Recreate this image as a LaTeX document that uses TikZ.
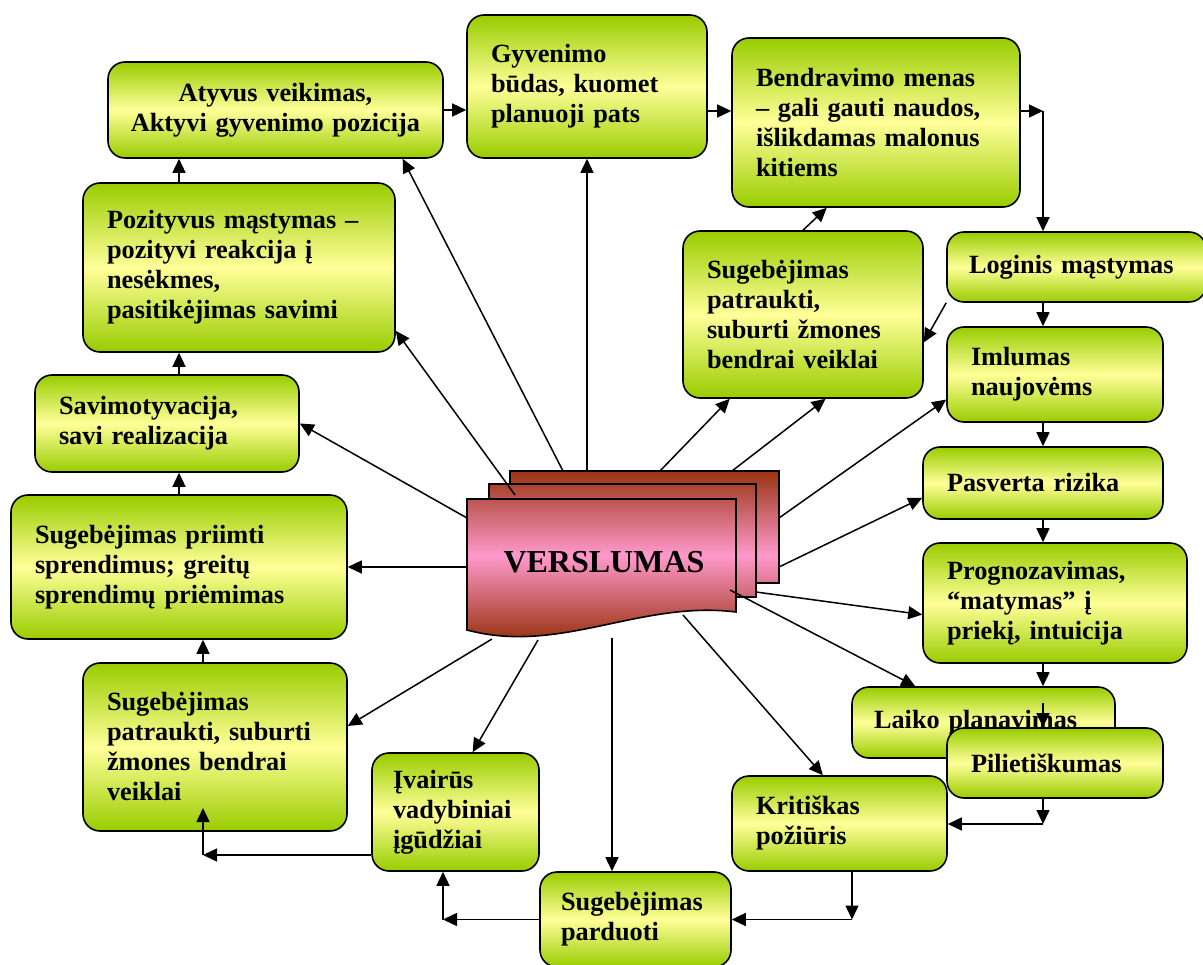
\documentclass[tikz,border=0pt]{standalone}
\usepackage{fontspec}
\setmainfont{Liberation Serif}
\usetikzlibrary{arrows.meta}
\definecolor{boxgreen}{RGB}{153,204,0}
\definecolor{boxyellow}{RGB}{255,255,153}
\definecolor{sheetdark}{RGB}{153,51,17}
\definecolor{sheetpink}{RGB}{255,153,204}
\hyphenpenalty=10000

\begin{document}
\begin{tikzpicture}[x=1pt,y=-1pt,>={Triangle[length=14pt,width=13pt]}]

		\tikzstyle{every node}=[font=\bfseries\fontsize{26.3}{30}\selectfont]
		\tikzstyle{box}=[draw, line width=1.6pt, rounded corners=17pt, top color=boxgreen, bottom color=boxgreen, middle color=boxyellow, align=left, inner xsep=24pt, inner ysep=0pt]
		\tikzstyle{link}=[->, line width=1.5pt]
		\tikzstyle{sheet}=[draw, line width=1.6pt]
		\tikzstyle{sheetfill}=[top color=sheetdark, bottom color=sheetdark, middle color=sheetpink]

		\useasboundingbox (0,0) rectangle (1203,965);

		\node[box, align=center, inner xsep=12pt, text width=311pt, minimum height=96pt] (atyvus) at (275.5,110) {Atyvus veikimas,\\Aktyvi gyvenimo pozicija};
		\node[box, text width=192pt, minimum height=143pt] (gyven) at (587,86.5) {Gyvenimo\\būdas, kuomet\\planuoji pats};
		\node[box, text width=240pt, minimum height=169pt] (bendr) at (876,122.5) {Bendravimo menas\\– gali gauti naudos,\\išlikdamas malonus\\kitiems};
		\node[box, text width=264pt, minimum height=169pt] (pozit) at (239,267.5) {Pozityvus mąstymas –\\pozityvi reakcija į\\nesėkmes,\\pasitikėjimas savimi};
		\node[box, text width=192pt, minimum height=167pt] (sugup) at (803,314.5) {Sugebėjimas\\patraukti,\\suburti žmones\\bendrai veiklai};
		\node[box, inner xsep=22pt, text width=215pt, minimum height=70pt] (logi) at (1076.5,267) {Loginis mąstymas};
		\node[box, text width=168pt, minimum height=95pt] (imlum) at (1055,374.5) {Imlumas\\naujovėms};
		\node[box, text width=216pt, minimum height=97pt] (savim) at (167,423.5) {Savimotyvacija,\\savi realizacija};
		\node[box, text width=192pt, minimum height=72pt] (pasv) at (1043,483) {Pasverta rizika};
		\node[box, text width=288pt, minimum height=144pt] (priim) at (179,567) {Sugebėjimas priimti\\sprendimus; greitų\\sprendimų priėmimas};
		\node[box, text width=216pt, minimum height=120pt] (progn) at (1055,603) {Prognozavimas,\\“matymas” į\\priekį, intuicija};
		\node[box, inner xsep=22pt, text width=219pt, minimum height=71pt] (laiko) at (983.5,722.5) {Laiko planavimas};
		\node[box, text width=168pt, minimum height=70pt] (pilie) at (1055,763) {Pilietiškumas};
		\node[box, text width=216pt, minimum height=168pt] (suglo) at (215,747) {Sugebėjimas\\patraukti, suburti\\žmones bendrai\\veiklai};
		\node[box, inner xsep=21pt, text width=125pt, minimum height=118pt] (ivair) at (455.5,812) {Įvairūs\\vadybiniai\\įgūdžiai};
		\node[box, text width=167pt, minimum height=95pt] (kriti) at (839.5,823.5) {Kritiškas\\požiūris};
		\node[box, inner xsep=21pt, text width=149pt, minimum height=95pt] (pardu) at (635.5,919.5) {Sugebėjimas\\parduoti};

		% three sheets of the centre
		\begin{scope}
		\clip (510,471) rectangle (779,583);
		\shade[sheetfill] (467,471) rectangle (779,640);
		\end{scope}
		\draw[sheet] (510,471) rectangle (779,583);

		\begin{scope}
		\clip (489,484) rectangle (756,597);
		\shade[sheetfill] (467,471) rectangle (779,640);
		\end{scope}
		\draw[sheet] (489,484) rectangle (756,597);

		\begin{scope}
		\clip (467,499) -- (736,499) -- (736,612) .. controls (640,600) and (560,655) .. (467,630) -- cycle;
		\shade[sheetfill] (467,471) rectangle (779,640);
		\end{scope}
		\draw[sheet] (467,499) -- (736,499) -- (736,612) .. controls (640,600) and (560,655) .. (467,630) -- cycle;

		\node[font=\bfseries\fontsize{32}{38}\selectfont] (vers) at (604,562) {VERSLUMAS};

		\coordinate (v1) at (563,471);
		\coordinate (v2) at (587,471);
		\coordinate (v3) at (515,495);
		\coordinate (v4) at (467,518);
		\coordinate (v5) at (467,567);
		\coordinate (v6) at (492,639);
		\coordinate (v7) at (538,640);
		\coordinate (v8) at (612,638);
		\coordinate (v9) at (683,615);
		\coordinate (v10) at (730,590);
		\coordinate (v11) at (756,592);
		\coordinate (v12) at (779,567);
		\coordinate (v13) at (779,518);
		\coordinate (v14) at (660,471);
		\coordinate (v15) at (732,471);

		\draw[link] (v1) -- (atyvus.-21);
		\draw[link] (v2) -- (gyven.south);
		\draw[link] (v3) -- (pozit.-22);
		\draw[link] (v4) -- (savim.east);
		\draw[link] (v5) -- (priim.east);
		\draw[link] (v6) -- (suglo.9);
		\draw[link] (v7) -- (ivair.74);
		\draw[link] (v8) -- (v8 |- pardu.north);
		\draw[link] (v9) -- (kriti.109);
		\draw[link] (v10) -- (laiko.152);
		\draw[link] (v11) -- (progn.185);
		\draw[link] (v12) -- (pasv.187);
		\draw[link] (v13) -- (imlum.193);
		\draw[link] (v14) -- (sugup.229);
		\draw[link] (v15) -- (sugup.-75);

		% chain round the outside
		\coordinate (turn1) at (1043,111);
		\coordinate (lpstart) at (1043,703);
		\coordinate (turn2) at (1043,824);
		\coordinate (turn3) at (852,919.5);
		\coordinate (turn4) at (443,919.5);
		\coordinate (turn5) at (203,855);
		\coordinate (tip5) at (203,808);

		\draw[link] (atyvus.east) -- (gyven.west |- atyvus.east);
		\draw[link] (gyven.east |- turn1) -- (bendr.west |- turn1);
		\draw[link] (bendr.east |- turn1) -- (turn1);
		\draw[link] (turn1) -- (turn1 |- logi.north);
		\draw[link] (turn1 |- logi.south) -- (turn1 |- imlum.north);
		\draw[link] (turn1 |- imlum.south) -- (turn1 |- pasv.north);
		\draw[link] (turn1 |- pasv.south) -- (turn1 |- progn.north);
		\draw[link] (turn1 |- progn.south) -- (turn1 |- laiko.north);
		\draw[link] (lpstart) -- (lpstart |- pilie.north);
		\draw[link] (turn1 |- pilie.south) -- (turn2);
		\draw[link] (turn2) -- (turn2 -| kriti.east);
		\draw[link] (turn3 |- kriti.south) -- (turn3);
		\draw[link] (turn3) -- (pardu.east);
		\draw[link] (pardu.west) -- (turn4);
		\draw[link] (turn4) -- (turn4 |- ivair.south);
		\draw[link] (ivair.west |- turn5) -- (turn5);
		\draw[link] (turn5) -- (tip5);
		\draw[link] (turn5 |- suglo.north) -- (turn5 |- priim.south);
		\draw[link] (priim.north) -- (priim.north |- savim.south);
		\draw[link] (priim.north |- savim.north) -- (priim.north |- pozit.south);
		\draw[link] (priim.north |- pozit.north) -- (priim.north |- atyvus.south);
		\draw[link] (sugup.north) -- (bendr.-120);
		\draw[link] (logi.south west) -- (sugup.-13);

\end{tikzpicture}
\end{document}
